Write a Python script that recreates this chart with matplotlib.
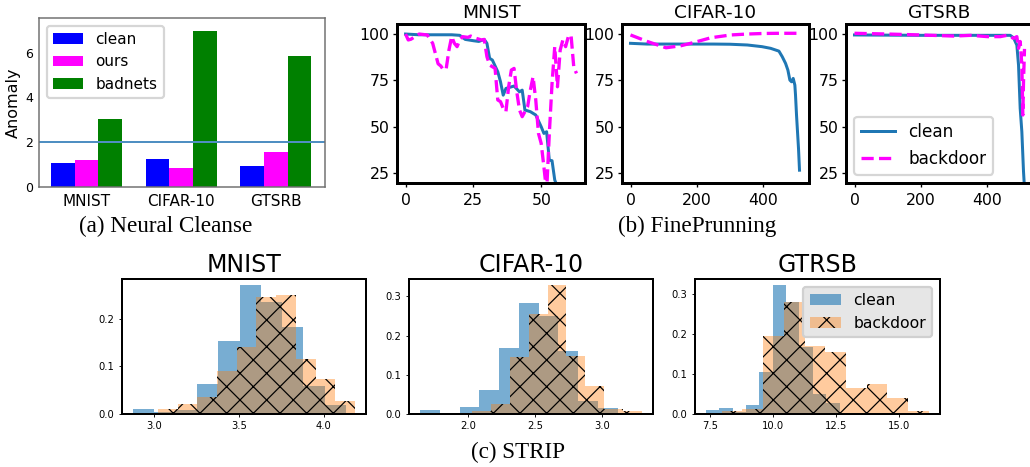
import numpy as np
import matplotlib
matplotlib.use("Agg")
import matplotlib.pyplot as plt
from matplotlib.ticker import FormatStrFormatter

# figure is laid out in pixels of the 1030x467 target
W, H = 1030, 467
DPI = 160
PT = 72 / DPI  # points per pixel

# (a) Neural Cleanse anomaly index
nc_datasets = ["MNIST", "CIFAR-10", "GTSRB"]
nc_clean = [1.05, 1.26, 0.96]
nc_ours = [1.22, 0.87, 1.55]
nc_badnets = [3.02, 6.98, 5.85]
nc_threshold = 2

# (b) FinePrunning accuracy curves
fp_mnist_clean_x = [0, 5, 10, 17, 20, 22, 25, 27, 29, 30, 31, 32, 34, 35, 36, 37, 40, 42, 43, 44,
                    46, 48, 50, 51, 52, 53, 54, 55, 56, 58, 60, 63]
fp_mnist_clean_y = [100, 99.6, 99.6, 99.6, 99.3, 97.1, 96.4, 96, 97.1, 95, 86.9, 86, 79.7, 74.3,
                    67.1, 70.7, 72, 68.9, 69.8, 59.1, 58.2, 56.4, 50.1, 46.5, 47.4, 32.1, 31.8,
                    21.4, 17.8, 12, 8, 4]
fp_mnist_bd_x = [0, 1, 2, 5, 8, 10, 12, 13, 14, 15, 16, 17, 18, 19, 20, 21, 23, 24, 26, 28, 29,
                 30, 31, 32, 33, 34, 35, 36, 37, 38, 39, 40, 41, 42, 43, 45, 46, 47, 48, 49, 50,
                 51, 52, 53, 54, 55, 56, 57, 58, 59, 60, 61, 62, 63]
fp_mnist_bd_y = [100, 96.8, 97.2, 100, 99.5, 95, 84, 82.8, 80.6, 81.5, 91.4, 98.6, 95, 93.2,
                 96.8, 98.6, 98.2, 98.9, 97.7, 96.8, 97.1, 87.8, 83.3, 82.4, 81.5, 64.5, 63.6,
                 60, 58.2, 71.6, 80.6, 81.5, 68.9, 59.1, 55.5, 60.9, 69.8, 77, 64.5, 46.5, 41.1,
                 28.5, 15, 46.5, 73.4, 93.2, 71.6, 91.4, 96.8, 93.2, 98.6, 99.5, 82.4, 78.8]

fp_cifar_clean_x = [0, 50, 100, 150, 200, 250, 300, 352, 396, 422, 447, 457, 467, 474, 480, 485,
                    490, 495, 497, 500, 503, 506, 509]
fp_cifar_clean_y = [95, 94.6, 94.6, 94.6, 94.6, 94.6, 94.5, 94.1, 93.2, 92.3, 90.8, 87.8, 84.2,
                    80.6, 75.2, 74.3, 76.1, 72.5, 67.1, 56.4, 47.4, 38.4, 26.7]
fp_cifar_bd_x = [0, 52, 107, 152, 192, 242, 302, 352, 400, 450, 511]
fp_cifar_bd_y = [99.5, 95.9, 92.6, 93.7, 95.5, 98, 99.5, 100, 100.3, 100.4, 100.4]

fp_gtsrb_clean_x = [0, 100, 200, 300, 400, 469, 479, 489, 494, 499, 504, 509, 512]
fp_gtsrb_clean_y = [99.5, 99.4, 99.3, 99.3, 99.3, 99.3, 98, 94, 83.3, 60, 47.4, 26, 17]
fp_gtsrb_bd_x = [0, 100, 200, 300, 350, 400, 439, 459, 479, 489, 494, 499, 504, 507, 509, 512]
fp_gtsrb_bd_y = [100.4, 100, 99.5, 98.9, 99.3, 98.6, 98.6, 99.3, 97.7, 98.6, 92.3, 96, 83.3,
                 56.4, 74.3, 92]

# (c) STRIP entropy histograms (bin range + fraction per bin)
st_mnist_clean_range = (2.875, 4.130)
st_mnist_clean = [0.0105, 0.005, 0.008, 0.063, 0.153, 0.270, 0.235, 0.182, 0.059, 0.019]
st_mnist_bd_range = (3.022, 4.183)
st_mnist_bd = [0.011, 0.021, 0.036, 0.091, 0.141, 0.245, 0.250, 0.115, 0.073, 0.027]

st_cifar_clean_range = (1.638, 3.120)
st_cifar_clean = [0.010, 0.0, 0.019, 0.060, 0.168, 0.282, 0.249, 0.161, 0.032, 0.015]
st_cifar_bd_range = (1.887, 3.301)
st_cifar_bd = [0.003, 0.007, 0.026, 0.146, 0.254, 0.328, 0.148, 0.072, 0.012, 0.008]

st_gtsrb_clean_range = (7.340, 12.641)
st_gtsrb_clean = [0.009, 0.014, 0.004, 0.022, 0.106, 0.321, 0.279, 0.167, 0.049, 0.027]
st_gtsrb_bd_range = (7.962, 16.193)
st_gtsrb_bd = [0.007, 0.012, 0.194, 0.279, 0.171, 0.156, 0.065, 0.076, 0.040, 0.007]

st_xticks = [[3.0, 3.5, 4.0], [2.0, 2.5, 3.0], [7.5, 10.0, 12.5, 15.0]]
st_yticks = [[0.0, 0.1, 0.2], [0.0, 0.1, 0.2, 0.3], [0.0, 0.1, 0.2, 0.3]]

plt.rcParams["font.family"] = ["DejaVu Sans"]
plt.rcParams["hatch.linewidth"] = 0.55

fig = plt.figure(figsize=(W / DPI, H / DPI), dpi=DPI)


def box(l, t, r, b):
    return [l / W, 1 - b / H, (r - l) / W, (b - t) / H]


# ---- (a) Neural Cleanse ----
ax = fig.add_axes(box(39, 18, 325, 187))
x = np.arange(len(nc_datasets))
w = 0.25
ax.bar(x - w, nc_clean, w, color="blue", label="clean")
ax.bar(x, nc_ours, w, color="magenta", label="ours")
ax.bar(x + w, nc_badnets, w, color="green", label="badnets")
ax.axhline(nc_threshold, color="#4f8fc2", lw=2 * PT)
ax.set_xlim(-0.5, 2.52)
ax.set_ylim(0, 7.55)
ax.set_yticks([0, 2, 4, 6])
ax.set_xticks(x, nc_datasets)
ax.tick_params(axis="x", length=0, labelsize=15.3 * PT, pad=3)
ax.tick_params(axis="y", length=0, labelsize=12.5 * PT, pad=2.7)
ax.set_ylabel("Anomaly", fontsize=16 * PT, labelpad=2)
for s in ax.spines.values():
    s.set_color("#707070")
    s.set_linewidth(1.5 * PT)
ax.legend(loc="upper left", fontsize=15.3 * PT, edgecolor="#cccccc")

# ---- (b) FinePrunning ----
fp = [
    ("MNIST", box(397, 24, 585, 183), fp_mnist_clean_x, fp_mnist_clean_y, fp_mnist_bd_x, fp_mnist_bd_y, (-3.15, 66.15), [0, 25, 50]),
    ("CIFAR-10", box(622, 24, 809, 183), fp_cifar_clean_x, fp_cifar_clean_y, fp_cifar_bd_x, fp_cifar_bd_y, (-25.6, 537.6), [0, 200, 400]),
    ("GTSRB", box(846, 24, 1033, 183), fp_gtsrb_clean_x, fp_gtsrb_clean_y, fp_gtsrb_bd_x, fp_gtsrb_bd_y, (-25.6, 537.6), [0, 200, 400]),
]
for i, (name, pos, cx, cy, bx, by, xl, xt) in enumerate(fp):
    ax = fig.add_axes(pos)
    ax.plot(cx, cy, color="#1f77b4", lw=3 * PT, label="clean")
    ax.plot(bx, by, color="magenta", ls="--", lw=3.3 * PT, label="backdoor")
    ax.set_xlim(*xl)
    ax.set_ylim(19.8, 105.4)
    ax.set_xticks(xt)
    ax.set_yticks([25, 50, 75, 100])
    ax.tick_params(labelsize=15.7 * PT, length=1.6, width=0.6)
    ax.tick_params(axis="x", pad=3)
    ax.tick_params(axis="y", pad=1.8)
    ax.set_title(name, fontsize=18.5 * PT, pad=2.7)
    for s in ax.spines.values():
        s.set_linewidth(3 * PT)
    if i == 2:
        ax.legend(loc="lower left", fontsize=16.9 * PT)

# ---- (c) STRIP ----
st = [
    ("MNIST", box(122, 279, 366, 414), st_mnist_clean_range, st_mnist_clean, st_mnist_bd_range, st_mnist_bd),
    ("CIFAR-10", box(409, 279, 653, 414), st_cifar_clean_range, st_cifar_clean, st_cifar_bd_range, st_cifar_bd),
    ("GTRSB", box(695, 279, 940, 414), st_gtsrb_clean_range, st_gtsrb_clean, st_gtsrb_bd_range, st_gtsrb_bd),
]
for i, (name, pos, cr, ch, br, bh) in enumerate(st):
    ax = fig.add_axes(pos)
    ce = np.linspace(cr[0], cr[1], len(ch) + 1)
    be = np.linspace(br[0], br[1], len(bh) + 1)
    ax.hist(ce[:-1], bins=ce, weights=ch, color="#1f77b4", alpha=0.6, label="clean")
    ax.hist(be[:-1], bins=be, weights=bh, color="#ff7f0e", alpha=0.4, hatch="xx", label="backdoor")
    ax.set_xticks(st_xticks[i])
    ax.set_yticks(st_yticks[i])
    ax.xaxis.set_major_formatter(FormatStrFormatter("%.1f"))
    ax.yaxis.set_major_formatter(FormatStrFormatter("%.1f"))
    ax.tick_params(labelsize=10 * PT, length=1.35, width=0.4, pad=2)
    ax.set_title(name, fontsize=23.6 * PT, pad=3.3)
    for s in ax.spines.values():
        s.set_linewidth(2 * PT)
    if i == 2:
        ax.legend(loc="upper right", fontsize=15.6 * PT, facecolor="#e6e6e6",
                  edgecolor="#d0d0d0", framealpha=1)

# captions
cap = dict(ha="center", va="baseline", fontsize=23.1 * PT, family="Liberation Serif")
fig.text(166 / W, 1 - 232 / H, "(a) Neural Cleanse", **cap)
fig.text(697 / W, 1 - 232 / H, "(b) FinePrunning", **cap)
fig.text(518 / W, 1 - 458 / H, "(c) STRIP", **cap)

fig.savefig("out.png", dpi=DPI)
